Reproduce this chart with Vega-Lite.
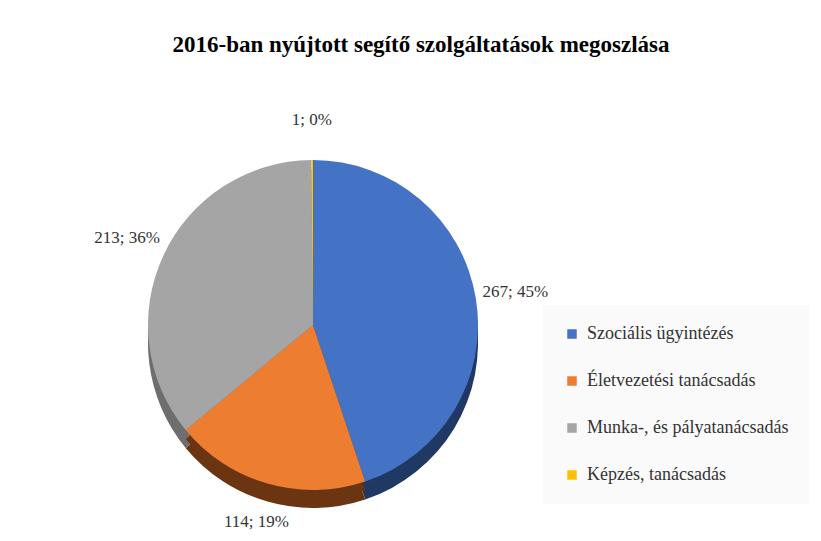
{
  "$schema": "https://vega.github.io/schema/vega-lite/v6.json",
  "width": 606,
  "height": 622,
  "autosize": "none",
  "padding": {"left": 10, "top": 14, "right": 205, "bottom": 0},
  "background": "white",
  "config": {"view": {"stroke": null}},
  "title": {
    "text": "2016-ban nyújtott  segítő szolgáltatások megoszlása",
    "font": "'Liberation Serif', 'Times New Roman', 'DejaVu Serif', serif",
    "fontSize": 23,
    "fontWeight": "bold",
    "color": "#000000",
    "anchor": "middle",
    "dx": 108,
    "offset": -43
  },
  "data": {
    "values": [
      {"idx": 1, "category": "Szociális ügyintézés", "value": 267, "label": "267; 45%"},
      {"idx": 2, "category": "Életvezetési tanácsadás", "value": 114, "label": "114; 19%"},
      {"idx": 3, "category": "Munka-, és pályatanácsadás", "value": 213, "label": "213; 36%"},
      {"idx": 4, "category": "Képzés, tanácsadás", "value": 1, "label": "1; 0%"}
    ]
  },
  "layer": [
    {
      "mark": {"type": "arc", "radius": 165, "yOffset": 18},
      "encoding": {
        "theta": {"field": "value", "type": "quantitative", "stack": true},
        "order": {"field": "idx", "type": "quantitative"},
        "color": {
          "field": "category", "type": "nominal", "legend": null,
          "scale": {
            "domain": ["Szociális ügyintézés", "Életvezetési tanácsadás", "Munka-, és pályatanácsadás", "Képzés, tanácsadás"],
            "range": ["#1f3864", "#6b3512", "#6e6e6e", "#bf9000"]
          }
        }
      }
    },
    {
      "mark": {"type": "arc", "radius": 165, "yOffset": 9},
      "encoding": {
        "theta": {"field": "value", "type": "quantitative", "stack": true},
        "order": {"field": "idx", "type": "quantitative"},
        "color": {
          "field": "category", "type": "nominal", "legend": null,
          "scale": {
            "domain": ["Szociális ügyintézés", "Életvezetési tanácsadás", "Munka-, és pályatanácsadás", "Képzés, tanácsadás"],
            "range": ["#1f3864", "#6b3512", "#6e6e6e", "#bf9000"]
          }
        }
      }
    },
    {
      "mark": {"type": "arc", "radius": 165},
      "encoding": {
        "theta": {"field": "value", "type": "quantitative", "stack": true},
        "order": {"field": "idx", "type": "quantitative"},
        "color": {
          "field": "category", "type": "nominal",
          "scale": {
            "domain": ["Szociális ügyintézés", "Életvezetési tanácsadás", "Munka-, és pályatanácsadás", "Képzés, tanácsadás"],
            "range": ["#4472c4", "#ed7d31", "#a5a5a5", "#ffc000"]
          },
          "legend": {
            "title": null,
            "orient": "none",
            "legendX": 533,
            "legendY": 291,
            "padding": 20,
            "fillColor": "#fafafa",
            "symbolType": "square",
            "symbolSize": 90,
            "symbolStrokeWidth": 0,
            "labelFont": "'Liberation Serif', 'Times New Roman', 'DejaVu Serif', serif",
            "labelFontSize": 18,
            "labelColor": "#333333",
            "labelLimit": 400,
            "labelOffset": 6,
            "rowPadding": 29
          }
        }
      }
    },
    {
      "mark": {"type": "text", "radius": 205, "font": "'Liberation Serif', 'Times New Roman', 'DejaVu Serif', serif", "fontSize": 17, "color": "#333333"},
      "encoding": {
        "theta": {"field": "value", "type": "quantitative", "stack": true},
        "order": {"field": "idx", "type": "quantitative"},
        "text": {"field": "label", "type": "nominal"}
      }
    }
  ],
  "resolve": {"scale": {"color": "independent"}}
}
